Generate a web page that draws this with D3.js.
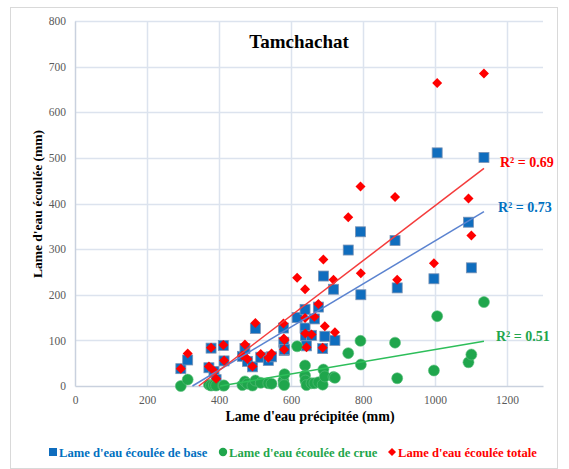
<!DOCTYPE html>
<html>
<head>
<meta charset="utf-8">
<script src="https://cdn.jsdelivr.net/npm/d3@7/dist/d3.min.js"></script>
<style>
  body { margin: 0; background: #fff; }
  svg { display: block; }
  text { font-family: "Liberation Serif", "Times New Roman", serif; }
</style>
</head>
<body>
<svg id="chart" width="569" height="469"></svg>
<script>
// ---- Data ----
const precip = [294, 313, 372, 378, 386, 392, 412, 414, 465, 472, 479, 493, 501, 516, 537, 546,
                579, 580, 581, 582, 617, 639, 639, 640, 643, 657, 665, 676, 688, 690, 694, 718,
                722, 759, 793, 794, 889, 895, 997, 1006, 1093, 1101, 1136];
const baseFlow = [38, 57, 40, 83, 32, 14, 89, 55, 65, 82, 54, 42, 126, 63, 56, 64,
                  127, 96, 78, 80, 150, 168, 127, 110, 88, 111, 147, 173, 82, 241, 109, 212,
                  100, 298, 338, 200, 319, 215, 235, 511, 359, 259, 501];
const floodFlow = [0, 14, 3, 1, 2, 1, 1, 1, 2, 10, 5, 1, 12, 7, 6, 5,
                   12, 4, 2, 26, 87, 45, 23, 12, 2, 6, 6, 8, 3, 36, 21, 20,
                   18, 72, 99, 47, 95, 17, 34, 153, 52, 69, 184];
const totalFlow = [38, 71, 43, 84, 33, 16, 90, 56, 67, 91, 59, 43, 138, 70, 62, 71,
                   137, 104, 80, 101, 237, 212, 149, 115, 85, 113, 152, 180, 84, 277, 131, 233,
                   118, 370, 437, 247, 414, 233, 269, 664, 411, 330, 685];

const seriesNames = ["Lame d'eau écoulée de base", "Lame d'eau écoulée de crue", "Lame d'eau écoulée totale"];
const seriesColors = ["#0F6DBE", "#1FA64C", "#FF0000"];
const lineColors = ["#5B83D0", "#2DBE5A", "#F43C3C"];
const textColors = ["#0070C0", "#1FA64C", "#FF0000"];
// linear trend lines (slope, intercept) and R² as shown
const trendSlope = [0.472, 0.134, 0.602];
const trendIntercept = [-154, -54, -207];
const r2Labels = ["R² = 0.73", "R² = 0.51", "R² = 0.69"];

const xTicks = [0, 200, 400, 600, 800, 1000, 1200];
const yTicks = [0, 100, 200, 300, 400, 500, 600, 700, 800];

// ---- Layout ----
const svg = d3.select("#chart");
const plot = { left: 75, right: 543, top: 21, bottom: 386 };
const serif = "'Liberation Serif', 'Times New Roman', serif";

svg.append("rect").attr("x", 10.5).attr("y", 7.5).attr("width", 547).attr("height", 461)
  .attr("fill", "#fff").attr("stroke", "#D9D9D9").attr("stroke-width", 1);

const x = d3.scaleLinear().domain([0, 1300]).range([plot.left, plot.right]);
const y = d3.scaleLinear().domain([0, 800]).range([plot.bottom, plot.top]);

// gridlines
const grid = svg.append("g");
grid.selectAll("line.h").data(yTicks.filter(d => d > 0)).join("line")
  .attr("x1", plot.left).attr("x2", plot.right)
  .attr("y1", d => Math.round(y(d)) + 0.5).attr("y2", d => Math.round(y(d)) + 0.5)
  .attr("stroke", "#DCE3EE").attr("stroke-width", 1.5);
grid.selectAll("line.v").data(xTicks.filter(d => d > 0)).join("line")
  .attr("y1", plot.top).attr("y2", plot.bottom)
  .attr("x1", d => Math.round(x(d)) + 0.5).attr("x2", d => Math.round(x(d)) + 0.5)
  .attr("stroke", "#DCE3EE").attr("stroke-width", 1.5);

// axes
const xAxis = svg.append("g").attr("transform", `translate(0,${plot.bottom})`)
  .call(d3.axisBottom(x).tickValues(xTicks).tickFormat(d3.format("d")).tickSize(0).tickPadding(10));
const yAxis = svg.append("g").attr("transform", `translate(${plot.left},0)`)
  .call(d3.axisLeft(y).tickValues(yTicks).tickFormat(d3.format("d")).tickSize(0).tickPadding(9));
[xAxis, yAxis].forEach(a => {
  a.attr("font-family", null);
  a.select(".domain").attr("stroke", "#C9D1DE").attr("stroke-width", 1.5);
  a.selectAll("text").style("font-family", serif).attr("font-size", 11.5)
    .attr("fill", "#595959");
});

// markers
const idx = d3.range(precip.length);
const pts = svg.append("g");
// base: squares
pts.selectAll("rect.base").data(idx).join("rect")
  .attr("x", i => x(precip[i]) - 5).attr("y", i => y(baseFlow[i]) - 5)
  .attr("width", 10).attr("height", 10)
  .attr("fill", seriesColors[0]).attr("stroke", "#7A93B5").attr("stroke-width", 0.8);
// crue: circles
pts.selectAll("circle.crue").data(idx).join("circle")
  .attr("cx", i => x(precip[i])).attr("cy", i => y(floodFlow[i])).attr("r", 5.5)
  .attr("fill", seriesColors[1]).attr("stroke", "#5DBF7D").attr("stroke-width", 0.6);
// totale: diamonds
pts.selectAll("path.tot").data(idx).join("path")
  .attr("d", i => {
    const cx = x(precip[i]), cy = y(totalFlow[i]), h = 5;
    return `M${cx},${cy - h}L${cx + h},${cy}L${cx},${cy + h}L${cx - h},${cy}Z`;
  })
  .attr("fill", seriesColors[2]);

// trend lines (within data x range, clipped at y = 0)
const xMin = d3.min(precip), xMax = d3.max(precip);
const trends = svg.append("g");
[0, 1, 2].forEach(k => {
  const a = trendSlope[k], b = trendIntercept[k];
  const x0 = Math.max(xMin, -b / a);
  trends.append("line")
    .attr("x1", x(x0)).attr("y1", y(a * x0 + b))
    .attr("x2", x(xMax)).attr("y2", y(a * xMax + b))
    .attr("stroke", lineColors[k]).attr("stroke-width", 1.5);
});

// R² labels
const r2Pos = [[498, 212], [496, 341], [500, 167]];
[0, 1, 2].forEach(k => {
  svg.append("text").attr("x", r2Pos[k][0]).attr("y", r2Pos[k][1])
    .attr("font-size", 14).attr("font-weight", "bold").attr("fill", textColors[k])
    .text(r2Labels[k]);
});

// title
svg.append("text").attr("x", 299).attr("y", 48).attr("text-anchor", "middle")
  .attr("font-size", 19).attr("font-weight", "bold").attr("fill", "#000").text("Tamchachat");

// axis titles
svg.append("text").attr("x", 310).attr("y", 421).attr("text-anchor", "middle")
  .attr("font-size", 14).attr("font-weight", "bold").attr("fill", "#000")
  .text("Lame d'eau précipitée (mm)");
svg.append("text").attr("transform", "translate(42,204) rotate(-90)").attr("text-anchor", "middle")
  .attr("font-size", 13.5).attr("font-weight", "bold").attr("fill", "#000")
  .text("Lame d'eau écoulée (mm)");

// legend
const legY = 452;
const legX = [49, 219, 388];
const leg = svg.append("g");
[0, 1, 2].forEach(k => {
  const g = leg.append("g").attr("transform", `translate(${legX[k]},${legY})`);
  if (k === 0) g.append("rect").attr("x", 0).attr("y", -4).attr("width", 8).attr("height", 8).attr("fill", seriesColors[0]);
  if (k === 1) g.append("circle").attr("cx", 4).attr("cy", 0).attr("r", 4.2).attr("fill", seriesColors[1]);
  if (k === 2) g.append("path").attr("d", "M4,-4L8,0L4,4L0,0Z").attr("fill", seriesColors[2]);
  g.append("text").attr("x", 10).attr("y", 4.5).attr("font-size", 12.6).attr("font-weight", "bold")
    .attr("fill", textColors[k]).text(seriesNames[k]);
});
</script>
</body>
</html>
